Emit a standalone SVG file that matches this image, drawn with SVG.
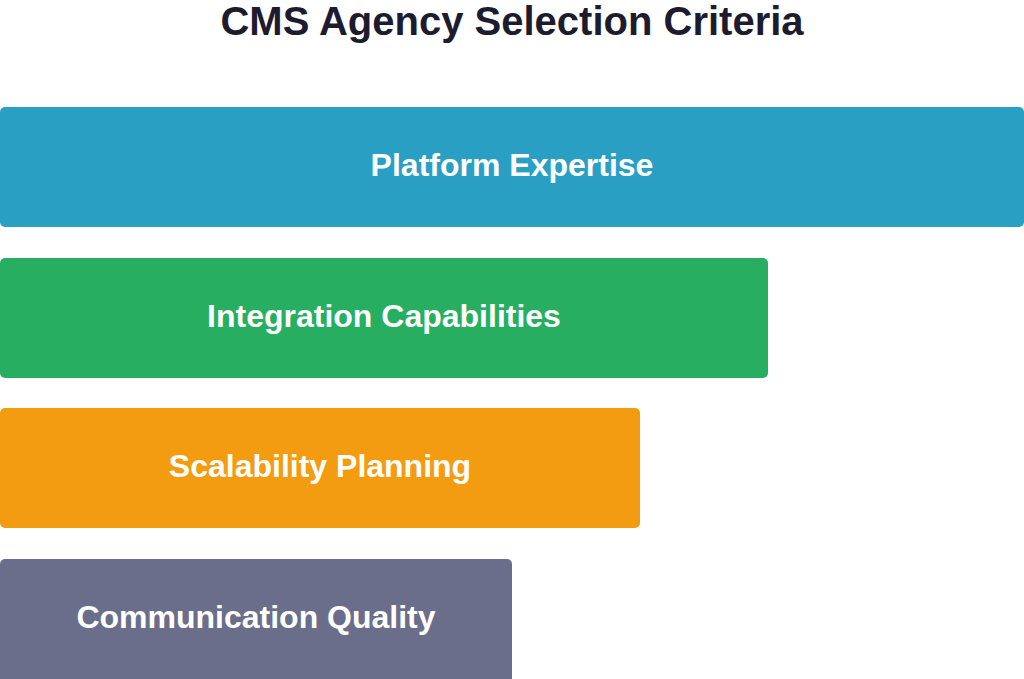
<svg xmlns="http://www.w3.org/2000/svg" width="1024" height="679" viewBox="0 0 1024 679">
<style>
.t{font-family:"Liberation Sans",Arial,sans-serif;font-weight:bold;fill:#fff;font-size:32px;text-anchor:middle}
.h{font-family:"Liberation Sans",Arial,sans-serif;font-weight:bold;fill:#1c1c2e;font-size:40px;text-anchor:middle}
</style>
<rect width="1024" height="679" fill="#fff"/>
<text class="h" x="512" y="35">CMS Agency Selection Criteria</text>
<g id="n1"><rect x="0" y="107" width="1024" height="120" rx="5" fill="#2A9FC4"/><text class="t" x="512" y="176">Platform Expertise</text></g>
<g id="n2"><rect x="0" y="258" width="768" height="120" rx="5" fill="#27AE60"/><text class="t" x="384" y="327">Integration Capabilities</text></g>
<g id="n3"><rect x="0" y="408" width="640" height="120" rx="5" fill="#F39C12"/><text class="t" x="320" y="477">Scalability Planning</text></g>
<g id="n4"><rect x="0" y="559" width="512" height="124" rx="5" fill="#6B6E8A"/><text class="t" x="256" y="628">Communication Quality</text></g>
<g id="connectors"/>
</svg>
